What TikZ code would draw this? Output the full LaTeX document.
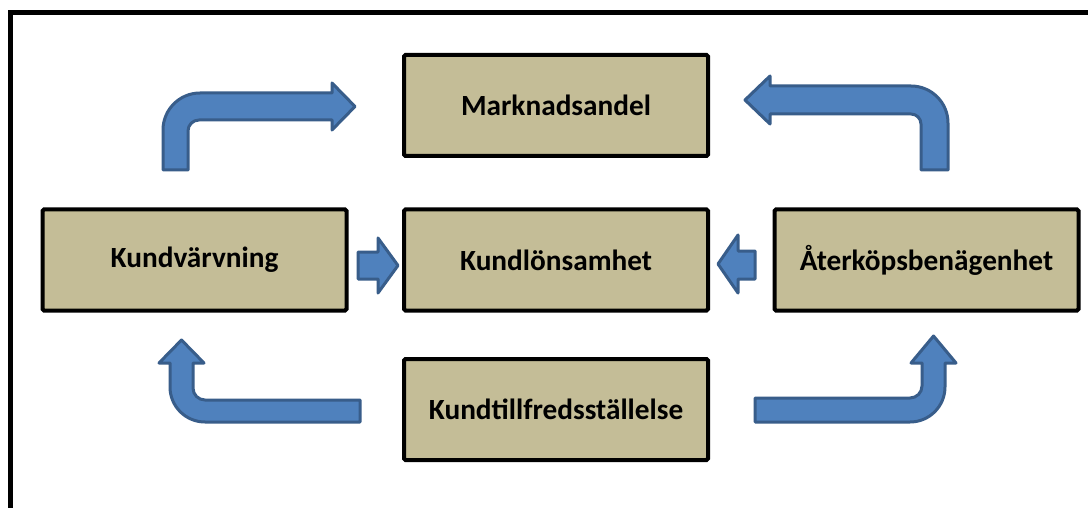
\documentclass[tikz,border=0pt]{standalone}
\usepackage{fontspec}
\setmainfont{Carlito}
\definecolor{boxfill}{HTML}{C4BD97}
\definecolor{arrfill}{HTML}{4F81BD}
\definecolor{arrline}{HTML}{385D8A}
\tikzset{
  box/.style={draw=black, line width=4, fill=boxfill, rounded corners=1.5,
    minimum width=304, minimum height=101, inner sep=0,
    font=\fontsize{29.3}{34}\selectfont\bfseries},
  blockarrow/.style={draw=arrline, fill=arrfill, line width=3, line join=round}
}
\begin{document}
\begin{tikzpicture}[x=1pt,y=-1pt]
\useasboundingbox (0,0) rectangle (1088,508);
\clip (0,0) rectangle (1088,508);
\fill[white] (0,0) rectangle (1088,508);
\draw[line width=5] (10.5,12.5) rectangle (1110,530);

\node[box] (mark) at (556,105.5) {Marknadsandel};
\node[box] (varv) at (194.5,260) {Kundvärvning};
\node[box] (lons) at (556,260) {Kundlönsamhet};
\node[box] (ater) at (926.5,260) {Återköpsbenägenhet};
\node[box] (nojd) at (556,409.5) {Kundtillfredsställelse};

% top-left bent arrow (Kundvärvning -> Marknadsandel)
\draw[blockarrow] (163,170) -- (163,130) arc[start angle=180,end angle=270,radius=37]
  -- (332,93) -- (332,83) -- (355,106.5) -- (332,130) -- (332,120) -- (199,120)
  arc[start angle=270,end angle=180,radius=11] -- (188,170) -- cycle;
% top-right bent arrow (Återköpsbenägenhet -> Marknadsandel)
\draw[blockarrow] (948,170) -- (948,123) arc[start angle=0,end angle=-90,radius=37]
  -- (770,86) -- (770,76) -- (745,100) -- (770,124) -- (770,114) -- (911,114)
  arc[start angle=-90,end angle=0,radius=10] -- (921,170) -- cycle;
% bottom-left bent arrow (Kundtillfredsställelse -> Kundvärvning)
\draw[blockarrow] (360,400) -- (205,400) arc[start angle=90,end angle=180,radius=12]
  -- (193,363) -- (204,363) -- (181.5,340) -- (159,363) -- (170,363) -- (170,387)
  arc[start angle=180,end angle=90,radius=35] -- (360,422) -- cycle;
% bottom-right bent arrow (Kundtillfredsställelse -> Återköpsbenägenhet)
\draw[blockarrow] (755,398) -- (910,398) arc[start angle=90,end angle=0,radius=12]
  -- (922,363) -- (911,363) -- (933.5,336) -- (956,363) -- (945,363) -- (945,387)
  arc[start angle=0,end angle=90,radius=35] -- (755,422) -- cycle;
% small arrows
\draw[blockarrow] (358,252) -- (378,252) -- (378,238) -- (398,265.5) -- (378,293)
  -- (378,279) -- (358,279) -- cycle;
\draw[blockarrow] (755,251) -- (738,251) -- (738,235) -- (718,264) -- (738,293)
  -- (738,279) -- (755,279) -- cycle;
\end{tikzpicture}
\end{document}
